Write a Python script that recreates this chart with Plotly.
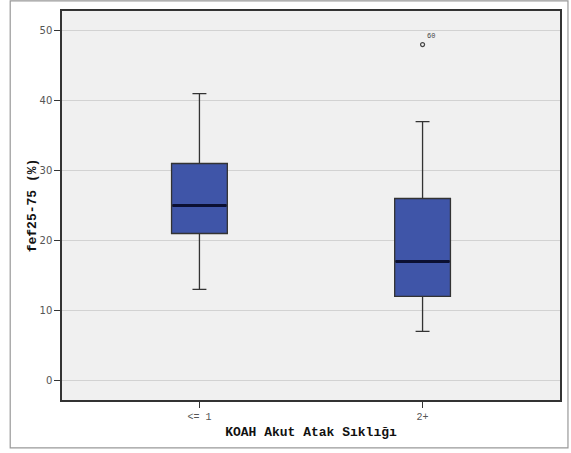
import plotly.graph_objects as go

categories = ["<= 1", "2+"]
lower_whisker = [13, 7]
q1 = [21, 12]
median = [25, 17]
q3 = [31, 26]
upper_whisker = [41, 37]
outlier_values = [48]
outlier_groups = ["2+"]
outlier_labels = ["60"]
y_ticks = [0, 10, 20, 30, 40, 50]

BOX_W = 0.25
xpos = list(range(len(categories)))

fig = go.Figure()
for i, c in enumerate(categories):
    fig.add_trace(go.Box(
        x=[xpos[i]], q1=[q1[i]], median=[median[i]], q3=[q3[i]],
        lowerfence=[lower_whisker[i]], upperfence=[upper_whisker[i]],
        width=BOX_W, whiskerwidth=0.25,
        fillcolor="#3F55A8", line=dict(color="#333333", width=1.3),
        boxpoints=False, showlegend=False, hoverinfo="skip",
    ))
    # thicker median line
    fig.add_trace(go.Scatter(
        x=[xpos[i] - BOX_W / 2 + 0.004, xpos[i] + BOX_W / 2 - 0.004],
        y=[median[i], median[i]], mode="lines",
        line=dict(color="#0B1033", width=3), showlegend=False, hoverinfo="skip",
    ))

ox = [xpos[categories.index(g)] for g in outlier_groups]
fig.add_trace(go.Scatter(
    x=ox, y=outlier_values, mode="markers",
    marker=dict(symbol="circle-open", size=4, color="#444444", line=dict(width=1.2)),
    showlegend=False, hoverinfo="skip",
))
for xv, yv, t in zip(ox, outlier_values, outlier_labels):
    fig.add_annotation(x=xv, y=yv, text=t, showarrow=False, xshift=8, yshift=9,
                       font=dict(family="Liberation Mono", size=7, color="#444444"))

fig.update_layout(
    width=571, height=453,
    margin=dict(l=62, r=9, t=11, b=53),
    paper_bgcolor="white", plot_bgcolor="#F0F0F0",
    font=dict(family="DejaVu Sans", color="#555555"),
    shapes=[dict(type="rect", xref="paper", yref="paper",
                 x0=-0.104, x1=1.016, y0=-0.123, y1=1.026,
                 line=dict(color="#999999", width=1.2), fillcolor="rgba(0,0,0,0)", layer="below")],
)
fig.update_xaxes(
    range=[-0.616, 1.616], tickvals=xpos, ticktext=categories,
    tickfont=dict(family="Liberation Mono", size=10, color="#555555"),
    ticks="outside", ticklen=6, tickcolor="#333333",
    showgrid=False, zeroline=False,
    showline=True, linecolor="#333333", linewidth=1.5, mirror=True,
    title=dict(text="KOAH Akut Atak Sıklığı", standoff=5,
               font=dict(family="Liberation Mono", size=13, color="#111111", weight="bold")),
)
fig.update_yaxes(
    range=[-2.8, 52.8], tickvals=y_ticks,
    tickfont=dict(family="DejaVu Sans", size=10, color="#555555"),
    ticks="outside", ticklen=6, tickcolor="#333333",
    showgrid=True, gridcolor="#D2D2D2", gridwidth=1.2, zeroline=False,
    showline=True, linecolor="#333333", linewidth=1.5, mirror=True,
    title=dict(text="fef25-75 (%)", standoff=0,
               font=dict(family="Liberation Mono", size=13, color="#111111", weight="bold")),
)

fig.write_html("out.html", config={"displayModeBar": False},
               post_script="document.body.style.margin='0';document.body.style.overflow='hidden';")
